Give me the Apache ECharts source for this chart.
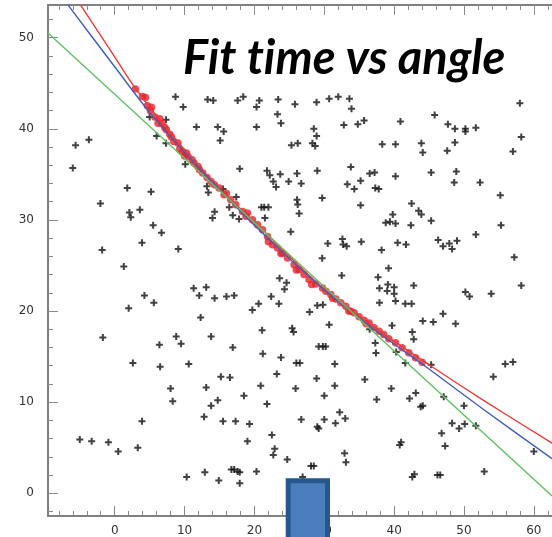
<!DOCTYPE html>
<html>
<head>
<meta charset="utf-8">
<style>
  html, body { margin: 0; padding: 0; background: #ffffff; }
  #chart { width: 552px; height: 537px; }
</style>
<script src="https://cdn.jsdelivr.net/npm/echarts@6/dist/echarts.min.js"></script>
</head>
<body>
<div id="chart"></div>
<script>
// Axis ranges and tick positions
const X_RANGE = [-9.55, 62.6];
const Y_RANGE = [-2.49, 53.58];
const X_MAJOR = [0, 10, 20, 30, 40, 50, 60];
const X_MINOR = [-8, -6, -4, -2, 2, 4, 6, 8, 12, 14, 16, 18, 22, 24, 26, 28, 32, 34, 36, 38, 42, 44, 46, 48, 52, 54, 56, 58, 62];
const Y_MAJOR = [0, 10, 20, 30, 40, 50];
const Y_MINOR = [-2, 2, 4, 6, 8, 12, 14, 16, 18, 22, 24, 26, 28, 32, 34, 36, 38, 42, 44, 46, 48, 52];

// All hits (angle, time)
const hits = [
  [8.7,43.5],[13.3,43.2],[14.1,43.1],[9.8,42.4],[5.0,41.3],[7.35,41.0],[11.7,40.2],[-3.7,38.8],[-5.6,38.2],[6.0,39.2],
  [7.35,38.4],[-6.0,35.7],[10.1,36.1],[13.2,33.7],[13.4,33.0],[1.8,33.5],[5.2,33.1],[-2.05,31.8],[2.1,30.8],[2.3,30.3],
  [3.6,31.1],[14.3,30.9],[14.0,30.2],[5.5,29.4],[6.7,28.6],[3.9,27.5],[-1.8,26.7],[9.1,26.8],[1.3,24.9],[11.3,22.5],
  [13.1,22.6],[15.5,33.4],
  [17.6,43.1],[18.4,43.5],[20.7,43.1],[20.3,42.4],[23.4,43.2],[25.8,42.7],[28.9,42.9],[30.7,43.3],[32.0,43.5],[33.6,43.3],
  [33.9,42.2],[23.3,41.6],[23.8,40.6],[20.3,40.2],[14.75,40.2],[15.6,39.7],[15.1,38.7],[25.3,38.2],[26.2,38.4],[28.5,40.0],
  [28.9,39.2],[28.3,38.4],[28.7,38.1],[32.8,40.4],[34.8,40.5],[35.7,40.9],[38.3,38.3],[17.9,35.6],[21.8,35.4],[22.2,34.9],
  [23.7,35.0],[22.7,34.2],[23.1,33.6],[24.9,34.2],[26.1,35.1],[26.7,34.0],[29.0,35.4],[33.8,35.8],[36.5,35.1],[37.2,35.2],
  [33.3,33.9],[34.3,33.4],[35.2,34.3],[37.3,33.5],[37.8,33.4],[29.7,32.4],[35.2,31.6],[26.1,32.2],[26.2,31.7],[26.4,30.7],
  [17.4,32.5],[16.4,31.4],[16.9,30.5],[17.8,30.1],[21.0,31.4],[21.4,31.4],[22.0,31.4],[21.5,30.2],[25.2,28.7],[30.5,27.4],
  [32.6,27.9],[32.7,27.3],[33.2,27.1],[35.3,27.6],[38.2,26.7],[29.7,25.8],[32.5,23.9],[37.7,23.7],[23.6,23.6],[24.6,23.1],
  [24.3,22.4],[37.9,22.5],
  [58.0,42.8],[45.8,41.5],[40.9,40.8],[47.7,40.5],[48.7,40.0],[50.2,40.0],[50.2,39.7],[51.7,40.1],[58.2,39.1],[40.2,38.3],
  [43.9,38.4],[44.1,37.4],[47.6,37.6],[48.7,38.5],[57.0,37.5],[40.2,34.8],[45.3,35.2],[48.9,35.3],[48.6,34.1],[52.3,34.1],
  [55.2,32.7],[42.5,31.8],[43.5,31.0],[43.9,30.6],[39.8,30.6],[38.8,29.7],[39.4,29.8],[40.2,29.6],[42.4,29.4],[45.3,29.9],
  [55.3,29.4],[51.7,28.4],[40.5,27.5],[41.7,27.3],[46.3,27.8],[47.0,27.1],[47.9,27.4],[48.3,26.8],[49.0,27.7],[39.2,24.7],
  [57.2,25.9],[39.1,22.9],[40.0,22.6],[42.8,22.8],[58.2,22.8],
  [4.25,21.7],[5.6,20.9],[2.0,20.3],[12.1,21.7],[14.3,21.4],[12.3,19.3],[-1.7,17.1],[8.8,17.2],[9.5,16.4],[6.4,16.3],
  [13.8,17.2],[2.6,14.3],[6.5,13.9],[10.6,14.2],[8.0,11.5],[13.1,11.6],[8.3,10.1],[13.8,9.6],[12.8,8.4],[3.9,7.9],
  [-5.0,5.9],[-3.3,5.7],[-0.9,5.6],[0.5,4.6],[3.3,5.0],[10.3,1.8],[12.9,2.3],
  [16.0,21.6],[17.1,21.7],[22.4,21.6],[20.6,20.8],[23.5,20.8],[19.7,20.1],[27.9,19.9],[29.0,20.6],[29.8,20.7],[21.1,17.9],
  [25.4,18.1],[25.6,17.7],[30.7,18.5],[37.9,20.9],[36.5,18.0],[37.3,16.5],[37.4,15.4],[16.9,16.0],[21.2,15.3],[23.8,14.9],
  [26.0,14.3],[26.5,14.3],[29.2,16.1],[29.8,16.1],[30.2,16.1],[31.5,14.2],[23.2,13.1],[15.2,12.8],[16.5,12.7],[20.9,11.8],
  [25.9,11.5],[28.9,12.6],[31.5,11.8],[30.0,10.7],[35.8,12.5],[18.5,10.7],[21.8,9.8],[14.75,10.2],[37.5,10.3],[15.5,7.9],
  [17.3,7.9],[19.3,7.6],[26.7,8.1],[29.0,7.3],[29.2,7.1],[30.0,8.1],[31.6,7.7],[32.2,8.9],[33.0,8.2],[22.5,6.4],
  [19.0,5.7],[22.9,4.9],[22.7,4.2],[24.7,3.7],[32.9,4.4],[33.1,3.4],[16.7,2.6],[17.1,2.6],[17.6,2.4],[17.9,2.3],
  [20.3,2.4],[14.9,1.4],[17.9,1.1],[28.1,3.0],[28.5,3.0],[26.9,1.8],
  [39.0,22.2],[40.0,21.9],[40.2,21.1],[41.6,20.8],[42.5,20.8],[50.2,22.1],[50.8,21.6],[53.9,21.9],[47.0,19.7],[44.1,18.9],
  [45.6,18.8],[48.8,18.6],[39.7,18.4],[42.6,17.7],[42.8,16.9],[40.3,15.5],[41.6,14.3],[45.3,14.1],[55.9,14.2],[57.0,14.4],
  [54.2,12.8],[39.6,11.5],[43.1,11.0],[42.2,10.4],[43.8,9.5],[44.1,9.6],[47.1,10.6],[50.0,9.6],[48.3,7.7],[49.3,7.1],
  [50.1,7.6],[51.7,7.4],[46.8,6.6],[40.8,5.3],[41.0,5.6],[47.3,5.2],[60.0,4.6],[52.9,2.4],[42.6,1.8],[42.9,2.1],
  [46.2,2.0],[46.6,2.0]
];

// Hits selected for the track fit
const selected = [
  [2.96,44.35],[3.97,43.54],[4.40,43.43],[4.68,42.52],[5.26,42.37],[5.11,41.97],[5.73,41.28],[6.44,41.09],[6.77,40.54],[7.16,40.14],
  [7.40,39.89],[7.88,39.41],[8.12,39.09],[8.45,38.60],[9.06,38.43],[9.31,37.77],[9.69,37.51],[10.27,37.33],[10.50,36.96],[11.07,36.60],
  [11.36,36.24],[11.93,35.86],[12.13,35.50],[12.60,35.14],[13.22,34.66],[13.79,34.22],[14.28,33.86],[14.94,33.50],[15.65,32.76],[16.61,32.22],
  [17.33,31.67],[18.29,30.93],[19.00,30.76],[19.72,30.02],[20.44,29.48],[21.15,28.93],[21.87,28.19],[22.58,27.28],[23.30,26.92],[24.02,26.38],
  [24.73,25.83],[25.68,25.09],[26.39,24.55],[27.11,24.00],[27.82,23.45],[28.78,22.98],[29.74,22.54],[30.22,22.17],[30.93,21.81],[31.65,21.33],
  [32.36,20.90],[33.08,20.52],[33.80,19.98],[34.27,19.80],[34.99,19.36],[35.70,18.99],[36.42,18.70],[37.13,18.16],[37.85,17.78],[38.52,17.42],
  [39.24,16.95],[40.20,16.51],[41.14,15.97],[42.10,15.42],[43.06,14.87],[44.01,14.39],
  [6.2,40.6],[10.0,37.0],[16.0,32.9],[18.8,30.4],[22.0,27.6],[23.8,26.3],[26.0,24.5],[28.2,22.9],[31.2,21.4],[33.5,20.0],[36.0,18.6]
];

// Fitted curves
const fitRed = [[-4.9,53.6],[0,47.9],[2.9,44.5],[8,39.5],[14,34.2],[20,29.8],[30,22.4],[38.5,17.5],[45.2,14.0],[52.8,10.2],[62.6,5.5]];
const fitBlue = [[-6.7,53.6],[0,46.8],[5,41.8],[11,36.6],[20,29.4],[30,22.3],[38.5,17.2],[44.7,13.8],[52.8,9.2],[62.6,3.8]];
const fitGreen = [[-9.55,50.5],[62.6,-0.3]];

const AXIS_COLOR = '#808080';
const TICK_COLOR = '#8a8a8a';
const LABEL_FONT = { color: '#333333', fontFamily: 'DejaVu Sans', fontSize: 12 };

function xAxisDef(position, ticks, len, withLine, labels) {
  return {
    type: 'value', position: position, min: X_RANGE[0], max: X_RANGE[1],
    axisLine: { show: withLine, onZero: false, lineStyle: { color: AXIS_COLOR, width: 2 } },
    axisTick: { show: true, inside: true, length: len, customValues: ticks, lineStyle: { color: TICK_COLOR, width: 1 } },
    axisLabel: labels ? Object.assign({ show: true, margin: 9, customValues: X_MAJOR }, LABEL_FONT) : { show: false },
    splitLine: { show: false }
  };
}
function yAxisDef(ticks, len, withLine, labels) {
  return {
    type: 'value', position: 'left', min: Y_RANGE[0], max: Y_RANGE[1],
    axisLine: { show: withLine, onZero: false, lineStyle: { color: AXIS_COLOR, width: 2 } },
    axisTick: { show: true, inside: true, length: len, customValues: ticks, lineStyle: { color: TICK_COLOR, width: 1 } },
    axisLabel: labels ? Object.assign({ show: true, margin: 14, customValues: Y_MAJOR }, LABEL_FONT) : { show: false },
    splitLine: { show: false }
  };
}

// "+" marker, arms about 2px thick once scaled
const crossPath = 'path://M-1,-3.5H1V-1H3.5V1H1V3.5H-1V1H-3.5V-1H-1Z';

const chart = echarts.init(document.getElementById('chart'), null, { renderer: 'canvas' });
chart.setOption({
  backgroundColor: '#ffffff',
  animation: false,
  title: {
    // zero-width non-joiner keeps the "ti" pair from forming a ligature
    text: 'Fit t\u200Cime vs angle',
    left: 183, top: 35, padding: 0,
    textStyle: { fontFamily: 'Lato', fontStyle: 'italic', fontWeight: 'bold', fontSize: 47, color: '#000000' }
  },
  grid: { left: 48, right: 0, top: 5, bottom: 20, containLabel: false },
  xAxis: [
    xAxisDef('bottom', X_MAJOR, 10, true, true),
    xAxisDef('bottom', X_MINOR, 5, false, false),
    xAxisDef('top', X_MAJOR, 10, true, false),
    xAxisDef('top', X_MINOR, 5, false, false)
  ],
  yAxis: [
    yAxisDef(Y_MAJOR, 10, true, true),
    yAxisDef(Y_MINOR, 5, false, false)
  ],
  series: [
    {
      name: 'hits', type: 'scatter', data: hits, symbol: crossPath, symbolSize: 7,
      itemStyle: { color: '#111111' }, z: 2
    },
    {
      name: 'selected', type: 'scatter', data: selected, symbol: 'circle', symbolSize: 7.5,
      itemStyle: { color: '#ea2228' }, z: 3
    },
    {
      name: 'fit red', type: 'line', data: fitRed, smooth: 0.3, showSymbol: false, symbol: 'none',
      lineStyle: { color: '#f03a3a', width: 1.4 }, z: 4
    },
    {
      name: 'fit blue', type: 'line', data: fitBlue, smooth: 0.3, showSymbol: false, symbol: 'none',
      lineStyle: { color: '#3f5fbf', width: 1.4 }, z: 4
    },
    {
      name: 'fit green', type: 'line', data: fitGreen, showSymbol: false, symbol: 'none',
      lineStyle: { color: '#5fc45f', width: 1.4 }, z: 4
    }
  ],
  graphic: [
    {
      type: 'rect', z: 100,
      shape: { x: 288.2, y: 480.8, width: 39.3, height: 70 },
      style: { fill: '#4a7ebd', stroke: '#27588d', lineWidth: 5 }
    }
  ]
});
</script>
</body>
</html>
